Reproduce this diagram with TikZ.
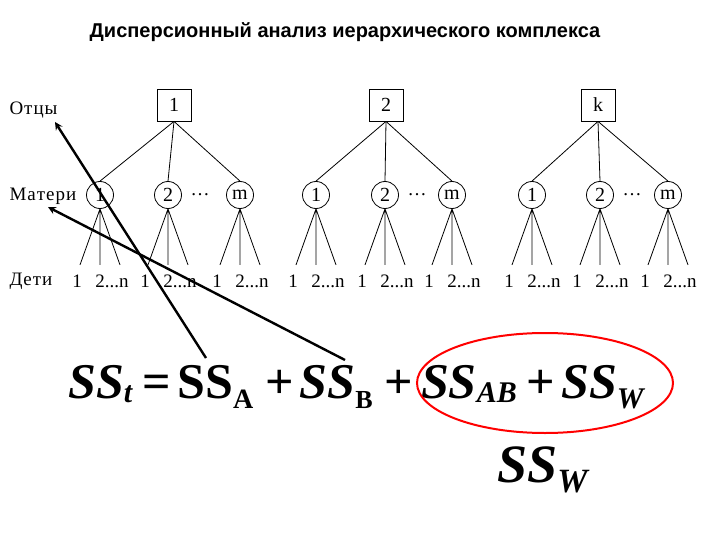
\documentclass[tikz,border=0pt]{standalone}
\usetikzlibrary{calc}
\usepackage{fontspec}
\setmainfont{Liberation Serif}
\newfontfamily\titlefont{Liberation Sans}
\begin{document}
\begin{tikzpicture}[x=1pt,y=-1pt,
  father/.style={draw,thick,minimum width=34pt,minimum height=32pt,inner sep=0pt,font=\fontsize{20}{20}\selectfont},
  mother/.style={draw,thick,circle,minimum size=27pt,inner sep=0pt,font=\fontsize{20}{20}\selectfont},
  lbl/.style={font=\fontsize{19}{19}\selectfont},
  br/.style={thick},
  arr/.style={line width=2.4pt,-stealth}]
\useasboundingbox (0,0) rectangle (720,540);
\node[font=\titlefont\bfseries\fontsize{20}{20}\selectfont] (title) at (345,32) {Дисперсионный анализ иерархического комплекса};
\node[lbl,anchor=west] (otcy) at (6,110) {О\kern1pt т\kern1pt ц\kern1pt ы};
\node[lbl,anchor=west] (materi) at (6,196) {М\kern1pt а\kern1pt т\kern1pt е\kern1pt р\kern1pt и};
\node[lbl,anchor=west] (deti) at (6,281) {Д\kern1pt е\kern1pt т\kern1pt и};
\foreach \g/\fx/\fl/\ma/\mb/\mc in {a/174/1/100/168/240, b/386/2/316/385/452, c/598/k/532/600/668}{
  \node[father] (f\g) at (\fx,105) {\fl};
  \node[mother] (m\g1) at (\ma,195) {1};
  \node[mother] (m\g2) at (\mb,195) {2};
  \node[mother] (m\g3) at (\mc,195) {m};
  \node[lbl] (d\g) at ({\mb+32},195) {\dots};
  \foreach \i in {1,2,3}{
    \draw[br] (f\g.south) -- (m\g\i.north);
    \coordinate (b\g\i) at (m\g\i.south);
    \path (b\g\i) ++(-20,56) coordinate (l\g\i) ++(20,0) coordinate (c\g\i) ++(20,0) coordinate (r\g\i);
    \draw[br] (b\g\i) -- (l\g\i) (b\g\i) -- (c\g\i) (b\g\i) -- (r\g\i);
    \node[lbl] (k1\g\i) at ($(c\g\i)+(-23,16)$) {1};
    \node[lbl] (k2\g\i) at ($(c\g\i)+(12,16)$) {2...n};
  }
}
\node[font=\bfseries\fontsize{50}{50}\selectfont,anchor=base west,inner sep=0pt] (eq) at (68,398)
 {\textit{SS}\raisebox{-4pt}{\fontsize{30}{30}\selectfont\textit{t}}\hspace{10pt}=\hspace{6pt}SS\raisebox{-10pt}{\fontsize{28}{28}\selectfont A}\hspace{12pt}+\hspace{6pt}\textit{SS}\raisebox{-10pt}{\fontsize{26}{26}\selectfont B}\hspace{12pt}+\hspace{8pt}\textit{SS}\raisebox{-4pt}{\fontsize{30}{30}\selectfont\textit{AB}}\hspace{10pt}+\hspace{6pt}\textit{SS}\raisebox{-10pt}{\fontsize{30}{30}\selectfont\textit{W}}};
\node[font=\bfseries\itshape\fontsize{54}{54}\selectfont,anchor=base west,inner sep=0pt] (ssw) at (497,482) {SS\raisebox{-10pt}{\fontsize{34}{34}\selectfont W}};
\draw[red,line width=2pt] (545,383) ellipse (128 and 50);
\coordinate (sa) at (206,358);
\coordinate (sb) at (345,360);
\draw[arr] (sa) -- (55,122);
\draw[arr] (sb) -- (48,207);
\end{tikzpicture}
\end{document}
